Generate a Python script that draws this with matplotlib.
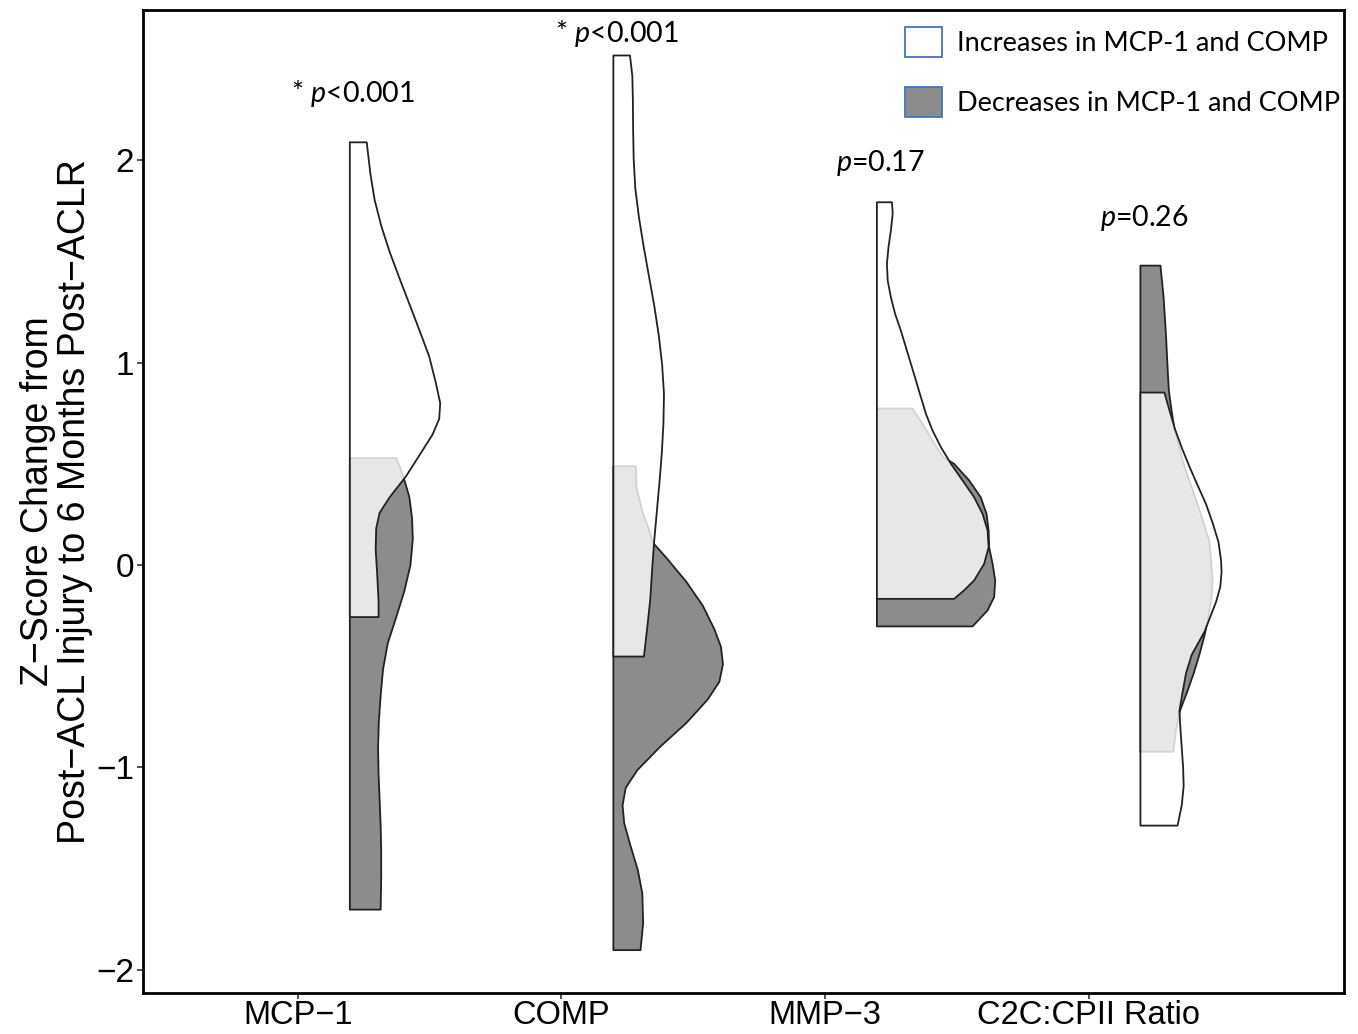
# Half violin plot: z-score change in biomarkers, post-ACL injury to 6 months post-ACLR
import numpy as np
import matplotlib.pyplot as plt
from matplotlib.patches import Patch

# Categories on the x axis
markers = ['MCP−1', 'COMP', 'MMP−3', 'C2C:CPII Ratio']
p_labels = [r'* $\mathit{p}$<0.001', r'* $\mathit{p}$<0.001', r'$\mathit{p}$=0.17', r'$\mathit{p}$=0.26']
p_label_y = [2.33, 2.625, 1.985, 1.715]

# Density profiles (z value, half-width in x units)
# "Increases" group (white)
mcp1_inc_y = [2.09, 1.935, 1.806, 1.678, 1.549, 1.42, 1.291, 1.162, 1.033, 0.904, 0.801, 0.724,
              0.647, 0.544, 0.44, 0.337, 0.26, 0.183, 0.08, -0.049, -0.178, -0.255]
mcp1_inc_w = [0.064, 0.078, 0.094, 0.119, 0.151, 0.188, 0.226, 0.264, 0.301, 0.326, 0.343, 0.339,
              0.314, 0.264, 0.213, 0.151, 0.113, 0.100, 0.098, 0.104, 0.109, 0.109]
comp_inc_y = [2.519, 2.417, 2.301, 2.156, 2.01, 1.865, 1.72, 1.574, 1.429, 1.284, 1.139, 0.993,
              0.848, 0.703, 0.558, 0.412, 0.267, 0.122, -0.023, -0.168, -0.314, -0.45]
comp_inc_w = [0.063, 0.072, 0.074, 0.075, 0.077, 0.083, 0.097, 0.115, 0.135, 0.155, 0.172, 0.185,
              0.192, 0.190, 0.184, 0.175, 0.165, 0.155, 0.147, 0.140, 0.128, 0.116]
mmp3_inc_y = [1.794, 1.737, 1.654, 1.572, 1.49, 1.407, 1.325, 1.243, 1.16, 1.078, 0.996, 0.914,
              0.831, 0.749, 0.667, 0.584, 0.502, 0.42, 0.337, 0.255, 0.173, 0.09, 0.008, -0.074,
              -0.123, -0.165]
mmp3_inc_w = [0.057, 0.060, 0.053, 0.044, 0.038, 0.041, 0.053, 0.069, 0.091, 0.110, 0.129, 0.148,
              0.167, 0.186, 0.211, 0.243, 0.281, 0.325, 0.369, 0.401, 0.420, 0.424, 0.407, 0.369,
              0.331, 0.293]
c2c_inc_y = [0.854, 0.767, 0.674, 0.581, 0.488, 0.396, 0.303, 0.21, 0.117, 0.024, -0.031, -0.106,
             -0.18, -0.254, -0.328, -0.44, -0.533, -0.626, -0.718, -0.811, -0.904, -0.997, -1.09,
             -1.183, -1.285]
c2c_inc_w = [0.091, 0.110, 0.131, 0.157, 0.186, 0.217, 0.249, 0.274, 0.296, 0.306, 0.308, 0.303,
             0.287, 0.265, 0.243, 0.195, 0.173, 0.160, 0.148, 0.152, 0.157, 0.162, 0.164, 0.157, 0.141]

# "Decreases" group (grey)
mcp1_dec_y = [0.53, 0.492, 0.44, 0.337, 0.234, 0.131, 0.002, -0.126, -0.255, -0.384, -0.513, -0.642,
              -0.771, -0.9, -1.029, -1.157, -1.286, -1.415, -1.544, -1.70]
mcp1_dec_w = [0.176, 0.188, 0.203, 0.226, 0.236, 0.239, 0.230, 0.207, 0.176, 0.144, 0.126, 0.117,
              0.110, 0.107, 0.109, 0.113, 0.117, 0.119, 0.119, 0.117]
comp_dec_y = [0.49, 0.383, 0.267, 0.18, 0.108, 0.035, -0.081, -0.198, -0.314, -0.401, -0.488, -0.575,
              -0.662, -0.778, -0.895, -1.011, -1.098, -1.185, -1.272, -1.389, -1.505, -1.621,
              -1.766, -1.90]
comp_dec_w = [0.085, 0.088, 0.110, 0.134, 0.153, 0.203, 0.277, 0.339, 0.383, 0.408, 0.416, 0.402,
              0.358, 0.277, 0.178, 0.091, 0.047, 0.035, 0.041, 0.066, 0.093, 0.110, 0.113, 0.103]
mmp3_dec_y = [0.775, 0.7, 0.617, 0.535, 0.502, 0.42, 0.337, 0.255, 0.173, 0.09, 0.008, -0.074,
              -0.156, -0.222, -0.301]
mmp3_dec_w = [0.135, 0.173, 0.211, 0.251, 0.293, 0.350, 0.394, 0.416, 0.424, 0.426, 0.439, 0.449,
              0.445, 0.420, 0.363]
c2c_dec_y = [1.481, 1.324, 1.138, 0.952, 0.863, 0.767, 0.674, 0.488, 0.303, 0.117, -0.069, -0.161,
             -0.254, -0.347, -0.44, -0.533, -0.626, -0.718, -0.811, -0.92]
c2c_dec_w = [0.076, 0.088, 0.097, 0.104, 0.108, 0.118, 0.129, 0.167, 0.217, 0.262, 0.274, 0.270,
             0.258, 0.243, 0.224, 0.202, 0.177, 0.150, 0.135, 0.125]

inc_y = [mcp1_inc_y, comp_inc_y, mmp3_inc_y, c2c_inc_y]
inc_w = [mcp1_inc_w, comp_inc_w, mmp3_inc_w, c2c_inc_w]
dec_y = [mcp1_dec_y, comp_dec_y, mmp3_dec_y, c2c_dec_y]
dec_w = [mcp1_dec_w, comp_dec_w, mmp3_dec_w, c2c_dec_w]

# Fonts
plt.rcParams['font.family'] = ['Liberation Sans', 'DejaVu Sans']
plt.rcParams['mathtext.fontset'] = 'custom'
plt.rcParams['mathtext.rm'] = 'Lato'
plt.rcParams['mathtext.it'] = 'Lato:italic'

fig = plt.figure(figsize=(13.58, 10.34), dpi=100)
ax = fig.add_axes([0.1053, 0.0397, 0.8847, 0.9506])

grey = '#8c8c8c'
offset = 0.195  # violins sit to the right of the tick

for i in range(len(markers)):
    x0 = i + 1 + offset
    # grey first, then the white one over it with some transparency
    y = np.array(dec_y[i])
    w = np.array(dec_w[i])
    ax.fill_betweenx(y, x0, x0 + w, facecolor=grey, edgecolor='#222222', linewidth=1.3, zorder=2)
    y = np.array(inc_y[i])
    w = np.array(inc_w[i])
    ax.fill_betweenx(y, x0, x0 + w, facecolor=(1, 1, 1, 0.8), edgecolor='#222222', linewidth=1.3, zorder=3)

# p-value labels
for i in range(len(markers)):
    ax.text(i + 1 + offset + 0.015, p_label_y[i], p_labels[i], ha='center', va='center',
            fontsize=20.5, family='Lato', zorder=4)

ax.set_xlim(0.412, 4.971)
ax.set_ylim(-2.114, 2.741)
ax.set_xticks(range(1, len(markers) + 1))
ax.set_xticklabels(markers, fontsize=23.5)
ax.set_yticks([-2, -1, 0, 1, 2])
ax.set_yticklabels(['−2', '−1', '0', '1', '2'], fontsize=24)
ax.tick_params(direction='out', length=4.5, width=1.2, colors='#333333', labelcolor='black', pad=2)
ax.tick_params(axis='x', pad=0.5)

for s in ax.spines.values():
    s.set_linewidth(2)
    s.set_color('black')

ax.set_ylabel('Z−Score Change from\nPost−ACL Injury to 6 Months Post−ACLR', fontsize=27,
              linespacing=1.05, labelpad=2)

# legend with blue-bordered boxes
handles = [Patch(facecolor='white', edgecolor='#4472C4', linewidth=1.3),
           Patch(facecolor=grey, edgecolor='#4472C4', linewidth=1.3)]
labels = ['Increases in MCP-1 and COMP', 'Decreases in MCP-1 and COMP']
leg = ax.legend(handles, labels, loc='upper left', bbox_to_anchor=(0.6664, 0.9739),
                bbox_transform=fig.transFigure, frameon=False, borderpad=0, borderaxespad=0,
                handlelength=1.37, handleheight=1.33, handletextpad=0.56, labelspacing=1.1,
                prop={'family': 'Lato', 'size': 19.5})

fig.savefig('out.png', dpi=100)
